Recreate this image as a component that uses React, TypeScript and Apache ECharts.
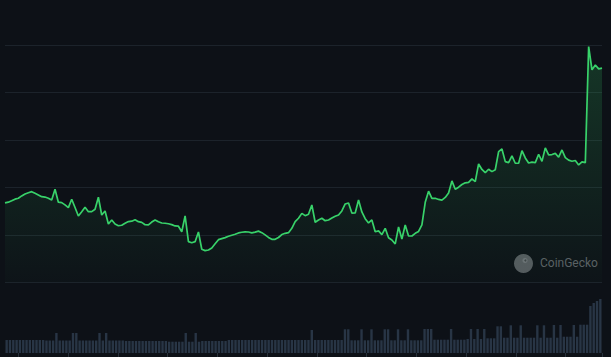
import React, { useEffect, useRef } from "react";
import * as echarts from "echarts";

// Price (USD), hourly samples
const price: number[] = [
  0.1836, 0.1844, 0.1859, 0.1876, 0.1885, 0.1910, 0.1931, 0.1944, 0.1955, 0.1938,
  0.1920, 0.1902, 0.1898, 0.1886, 0.1867, 0.1980, 0.1844, 0.1839, 0.1816, 0.1787,
  0.1875, 0.1788, 0.1699, 0.1744, 0.1791, 0.1744, 0.1744, 0.1769, 0.1896, 0.1709,
  0.1752, 0.1614, 0.1657, 0.1614, 0.1596, 0.1601, 0.1622, 0.1640, 0.1644, 0.1659,
  0.1639, 0.1631, 0.1607, 0.1604, 0.1635, 0.1657, 0.1638, 0.1625, 0.1622, 0.1617,
  0.1608, 0.1594, 0.1591, 0.1533, 0.1699, 0.1428, 0.1417, 0.1428, 0.1530, 0.1348,
  0.1334, 0.1340, 0.1362, 0.1406, 0.1449, 0.1460, 0.1471, 0.1485, 0.1496, 0.1506,
  0.1520, 0.1527, 0.1531, 0.1530, 0.1521, 0.1528, 0.1539, 0.1523, 0.1500, 0.1473,
  0.1453, 0.1453, 0.1472, 0.1503, 0.1516, 0.1523, 0.1569, 0.1639, 0.1675, 0.1726,
  0.1702, 0.1717, 0.1815, 0.1633, 0.1657, 0.1675, 0.1649, 0.1656, 0.1678, 0.1695,
  0.1709, 0.1752, 0.1825, 0.1836, 0.1729, 0.1730, 0.1867, 0.1741, 0.1670, 0.1625,
  0.1657, 0.1533, 0.1541, 0.1503, 0.1569, 0.1470, 0.1446, 0.1404, 0.1583, 0.1456,
  0.1604, 0.1488, 0.1488, 0.1516, 0.1536, 0.1604, 0.1843, 0.1960, 0.1885, 0.1885,
  0.1873, 0.1866, 0.1894, 0.1941, 0.2068, 0.1980, 0.2002, 0.2030, 0.2048, 0.2052,
  0.2089, 0.2060, 0.2247, 0.2189, 0.2155, 0.2191, 0.2166, 0.2186, 0.2377, 0.2405,
  0.2271, 0.2261, 0.2331, 0.2254, 0.2254, 0.2387, 0.2310, 0.2257, 0.2266, 0.2261,
  0.2349, 0.2275, 0.2416, 0.2342, 0.2346, 0.2358, 0.2318, 0.2394, 0.2313, 0.2287,
  0.2275, 0.2283, 0.2236, 0.2268, 0.2261, 0.3483, 0.3238, 0.3290, 0.3248, 0.3256,
];

// Volume (relative units) per hour
const volume: number[] = [
  13, 13, 13, 13, 13, 13, 13, 13, 13, 13,
  13, 13, 12.5, 12.5, 12.5, 20, 12.5, 12.5, 12.5, 12.5,
  20, 20, 12.5, 12.5, 12.5, 12.5, 12.5, 12.5, 20, 12.5,
  20, 12.5, 12.5, 12.5, 12.5, 12.5, 12, 12, 12, 12,
  12, 12, 12, 12, 12, 12, 12, 12, 12, 11.3,
  11.3, 11.3, 11.3, 11.3, 20, 11.3, 11.3, 20, 11.3, 12,
  12, 12, 12, 12, 12, 12, 12, 13, 13, 13,
  13, 13, 13, 13, 13, 13, 13, 13, 13, 13,
  13, 13, 13, 13, 13, 13, 13, 13, 13, 13,
  13, 13, 23, 13, 13, 13, 13, 13, 13, 13,
  13, 13, 23.7, 23.7, 12.7, 12.7, 12.7, 23.7, 12.7, 12.7,
  23.7, 12.7, 12.7, 12.7, 23.7, 23.7, 12.7, 12.7, 23.7, 12.7,
  12.7, 23.7, 12.7, 12.7, 12.7, 12.7, 24, 24, 24, 13.3,
  13.3, 13.3, 13.3, 13.3, 24, 13.3, 13.3, 13.3, 13.3, 14,
  24, 14, 24, 14, 24, 14.7, 14.7, 14.7, 26.7, 26.7,
  15.3, 15.3, 27.7, 15.3, 15.3, 27.7, 15.3, 15.3, 15.3, 15.3,
  27.7, 15.3, 27.7, 15.3, 15.3, 28, 15.3, 28, 16.3, 16.3,
  16.3, 28, 16.3, 28.3, 28.3, 28.3, 47, 50, 52, 54,
];

const hours: string[] = price.map((_, i) => String(i));

const priceAxis = { min: 0.1, max: 0.35, interval: 0.05 };
const volumeAxis = { min: 0, max: 60 };

const BG = "#0d1117";
const GREEN = "#38d26a";

export default function App() {
  const ref = useRef<HTMLDivElement>(null);

  useEffect(() => {
    if (!ref.current) return;
    const chart = echarts.init(ref.current, undefined, { renderer: "svg" });
    chart.setOption({
      animation: false,
      backgroundColor: BG,
      grid: [
        { left: 5, right: 9, top: 45, bottom: 74.7 },
        { left: 5, right: 9, top: 293, bottom: 4 },
      ],
      xAxis: [
        {
          type: "category",
          gridIndex: 0,
          data: hours,
          boundaryGap: false,
          show: false,
        },
        {
          type: "category",
          gridIndex: 1,
          data: hours,
          boundaryGap: true,
          axisLine: { show: false },
          axisLabel: { show: false },
          axisTick: {
            show: true,
            length: 4,
            interval: (i: number) => i % 15 === 4,
            lineStyle: { color: "#27303a" },
          },
          splitLine: { show: false },
        },
      ],
      yAxis: [
        {
          type: "value",
          gridIndex: 0,
          min: priceAxis.min,
          max: priceAxis.max,
          interval: priceAxis.interval,
          axisLabel: { show: false },
          axisLine: { show: false },
          axisTick: { show: false },
          splitLine: { show: true, lineStyle: { color: "#1c232b", width: 1 } },
        },
        {
          type: "value",
          gridIndex: 1,
          min: volumeAxis.min,
          max: volumeAxis.max,
          show: false,
          splitLine: { show: false },
        },
      ],
      series: [
        {
          type: "line",
          xAxisIndex: 0,
          yAxisIndex: 0,
          data: price,
          symbol: "none",
          smooth: false,
          lineStyle: { color: GREEN, width: 1.7 },
          areaStyle: {
            color: new echarts.graphic.LinearGradient(0, 0, 0, 1, [
              { offset: 0, color: "rgba(56,210,106,0.28)" },
              { offset: 1, color: "rgba(56,210,106,0.02)" },
            ]),
          },
        },
        {
          type: "bar",
          xAxisIndex: 1,
          yAxisIndex: 1,
          data: volume,
          barCategoryGap: "28%",
          itemStyle: { color: "#283545" },
        },
      ],
      graphic: [
        {
          type: "group",
          left: 514,
          top: 254,
          children: [
            { type: "circle", shape: { cx: 9.5, cy: 9.5, r: 9.5 }, style: { fill: "#55595e" } },
            { type: "circle", shape: { cx: 11, cy: 6.5, r: 2.6 }, style: { fill: "#6c7075" } },
            { type: "circle", shape: { cx: 11.4, cy: 6.5, r: 1 }, style: { fill: "#3d4145" } },
          ],
        },
        {
          type: "text",
          left: 540,
          top: 257,
          style: {
            text: "CoinGecko",
            fill: "#5b5f64",
            font: "12px Roboto, 'Noto Sans', sans-serif",
          },
        },
      ],
    });
    return () => chart.dispose();
  }, []);

  return (
    <div
      ref={ref}
      style={{ position: "fixed", left: 0, top: 0, width: 611, height: 357, background: BG }}
    />
  );
}
